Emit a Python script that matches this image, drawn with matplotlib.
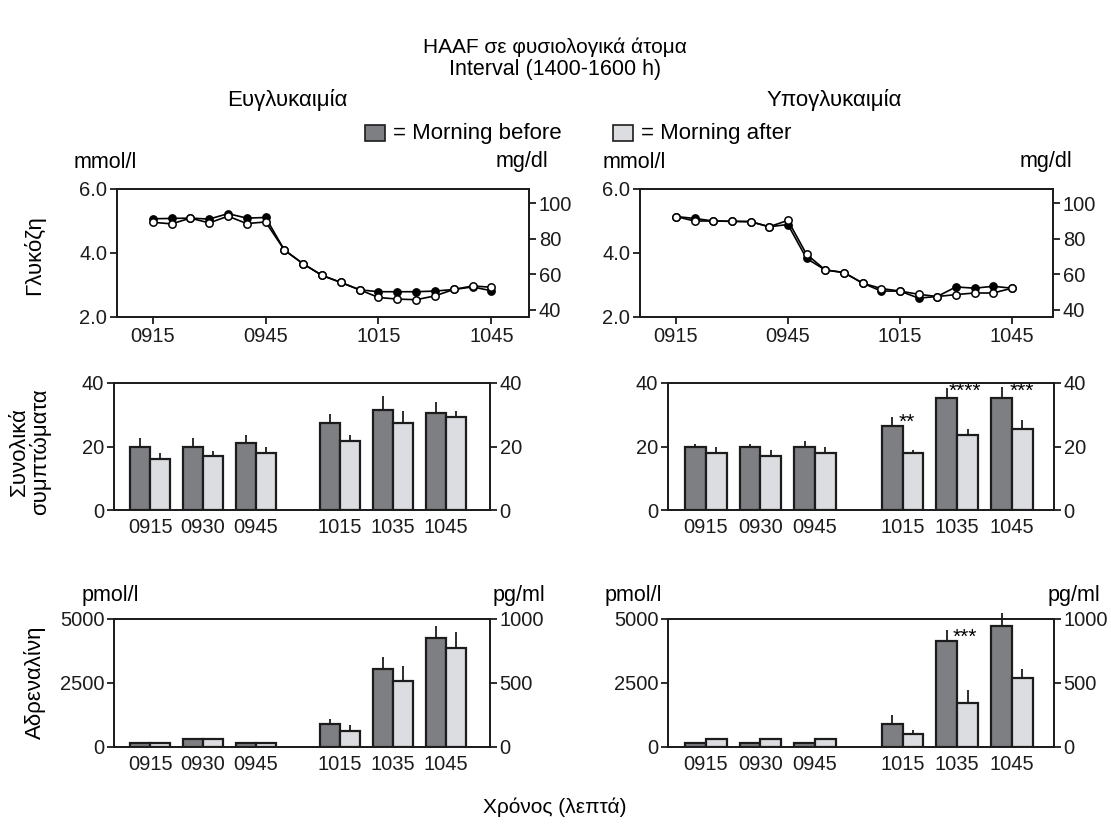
import numpy as np
import matplotlib
matplotlib.use('Agg')
import matplotlib.pyplot as plt
from matplotlib.patches import Rectangle

plt.rcParams['font.family'] = ['Liberation Sans', 'DejaVu Sans']
plt.rcParams['font.size'] = 14

# glucose curves, minutes after 0915
glu_min = [0, 5, 10, 15, 20, 25, 30, 35, 40, 45, 50, 55, 60, 65, 70, 75, 80, 85, 90]
eu_glu_before = [5.07, 5.08, 5.09, 5.06, 5.23, 5.09, 5.11, 4.09, 3.66, 3.30,
                 3.08, 2.85, 2.79, 2.79, 2.79, 2.81, 2.86, 2.94, 2.82]
eu_glu_after = [4.96, 4.91, 5.09, 4.94, 5.15, 4.92, 4.97, 4.09, 3.66, 3.30,
                3.08, 2.85, 2.61, 2.56, 2.54, 2.66, 2.86, 2.97, 2.93]
hy_glu_before = [5.14, 5.08, 5.00, 4.99, 4.98, 4.82, 4.89, 3.83, 3.47, 3.39,
                 3.06, 2.81, 2.81, 2.59, 2.64, 2.94, 2.90, 2.96, 2.90]
hy_glu_after = [5.14, 5.00, 5.00, 4.99, 4.98, 4.82, 5.02, 3.96, 3.47, 3.39,
                3.06, 2.89, 2.81, 2.71, 2.64, 2.70, 2.75, 2.75, 2.90]
glu_ticks = [0, 30, 60, 90]
glu_ticklabels = ['0915', '0945', '1015', '1045']

# bar charts
bar_labels = ['0915', '0930', '0945', '1015', '1035', '1045']

eu_sym_before = [20, 20, 21, 27.5, 31.4, 30.5]
eu_sym_before_err = [2.8, 2.8, 2.7, 2.8, 4.6, 3.6]
eu_sym_after = [16, 17, 18, 21.8, 27.5, 29.3]
eu_sym_after_err = [1.8, 1.7, 1.8, 1.7, 3.6, 1.9]

hy_sym_before = [20, 20, 20, 26.5, 35.2, 35.2]
hy_sym_before_err = [0.8, 0.8, 1.8, 2.7, 3.3, 3.6]
hy_sym_after = [18, 17, 18, 18, 23.7, 25.5]
hy_sym_after_err = [1.8, 1.8, 1.8, 0.9, 1.7, 2.8]

eu_adr_before = [150, 300, 150, 890, 3055, 4245]
eu_adr_before_err = [0, 0, 0, 220, 455, 480]
eu_adr_after = [150, 300, 150, 640, 2585, 3880]
eu_adr_after_err = [0, 0, 0, 235, 575, 610]

hy_adr_before = [150, 150, 150, 890, 4140, 4740]
hy_adr_before_err = [0, 0, 0, 350, 430, 510]
hy_adr_after = [300, 300, 300, 520, 1725, 2700]
hy_adr_after_err = [0, 0, 0, 130, 495, 340]

dark = '#7e7f83'
light = '#dcdde0'
edge = '#1c1c1c'

pos = np.array([0, 1, 2, 3.6, 4.6, 5.6])
w = 0.38
TICK = 14.5
LAB = 15.5

fig = plt.figure(figsize=(11.11, 8.25), dpi=100)


def style(ax):
    for s in ax.spines.values():
        s.set_linewidth(1.3)
        s.set_color(edge)
    ax.tick_params(direction='out', length=5, width=1.3, colors=edge, labelsize=TICK, pad=2)


def glucose(rect, before, after, xlim):
    ax = fig.add_axes(rect)
    ax.plot(glu_min, before, '-o', color='k', lw=1.2, ms=5.3, mfc='k', mec='k')
    ax.plot(glu_min, after, '-o', color='k', lw=1.2, ms=5.3, mfc='white', mec='k', mew=1.1)
    ax.set_xlim(xlim)
    ax.set_ylim(2, 6)
    ax.set_yticks([2, 4, 6])
    ax.set_yticklabels(['2.0', '4.0', '6.0'])
    ax.set_xticks(glu_ticks)
    ax.set_xticklabels(glu_ticklabels)
    style(ax)
    ax2 = ax.twinx()
    ax2.set_ylim(36, 108)
    ax2.set_yticks([40, 60, 80, 100])
    style(ax2)
    return ax


def bars(rect, before, before_err, after, after_err, ymax, yticks, rticks, rmax, xlim):
    ax = fig.add_axes(rect)
    ax.bar(pos - w / 2, before, w, color=dark, edgecolor=edge, lw=1.6, zorder=2)
    ax.bar(pos + w / 2, after, w, color=light, edgecolor=edge, lw=1.6, zorder=2)
    b = np.array(before)
    a = np.array(after)
    ax.vlines(pos - w / 2, b, b + np.array(before_err), color=edge, lw=1.3, zorder=3, clip_on=False)
    ax.vlines(pos + w / 2, a, a + np.array(after_err), color=edge, lw=1.3, zorder=3, clip_on=False)
    ax.set_xlim(xlim)
    ax.set_ylim(0, ymax)
    ax.set_yticks(yticks)
    ax.set_xticks(pos)
    ax.set_xticklabels(bar_labels)
    style(ax)
    ax.tick_params(axis='x', length=0, pad=6)
    ax2 = ax.twinx()
    ax2.set_ylim(0, rmax)
    ax2.set_yticks(rticks)
    style(ax2)
    return ax


H = 825.0
W = 1111.0


def r(x0, x1, ytop, ybot):
    return [x0 / W, 1 - ybot / H, (x1 - x0) / W, (ybot - ytop) / H]


glucose(r(117, 529, 189, 317), eu_glu_before, eu_glu_after, (-9.5, 100))
glucose(r(640, 1053, 189, 317), hy_glu_before, hy_glu_after, (-9.6, 101))

bars(r(114, 490, 383, 510), eu_sym_before, eu_sym_before_err, eu_sym_after, eu_sym_after_err,
     40, [0, 20, 40], [0, 20, 40], 40, (-0.69, 6.44))
ax_sym = bars(r(668, 1054, 383, 510), hy_sym_before, hy_sym_before_err, hy_sym_after, hy_sym_after_err,
              40, [0, 20, 40], [0, 20, 40], 40, (-0.69, 6.37))

bars(r(114, 490, 619, 747), eu_adr_before, eu_adr_before_err, eu_adr_after, eu_adr_after_err,
     5000, [0, 2500, 5000], [0, 500, 1000], 1000, (-0.69, 6.44))
ax_adr = bars(r(668, 1054, 619, 747), hy_adr_before, hy_adr_before_err, hy_adr_after, hy_adr_after_err,
              5000, [0, 2500, 5000], [0, 500, 1000], 1000, (-0.69, 6.37))

# significance stars
ax_sym.text(pos[3] + w / 2 - 0.12, 27.6, '**', ha='center', va='center', fontsize=15)
ax_sym.text(pos[4] + w / 2 - 0.05, 37.3, '****', ha='center', va='center', fontsize=15)
ax_sym.text(pos[5] + w / 2, 37.3, '***', ha='center', va='center', fontsize=15)
ax_adr.text(pos[4] + w / 2 - 0.05, 4300, '***', ha='center', va='center', fontsize=15)

# titles
fig.text(0.4995, 1 - 47 / H, 'HAAF σε φυσιολογικά άτομα', ha='center', va='center', fontsize=15)
fig.text(0.4995, 1 - 70 / H, 'Interval (1400-1600 h)', ha='center', va='center', fontsize=15.5)
fig.text(287 / W, 1 - 100 / H, 'Ευγλυκαιμία', ha='center', va='center', fontsize=16)
fig.text(834 / W, 1 - 100 / H, 'Υπογλυκαιμία', ha='center', va='center', fontsize=16)

# legend
fig.patches.append(Rectangle((365 / W, 1 - 141 / H), 20 / W, 16 / H, transform=fig.transFigure,
                             facecolor=dark, edgecolor=edge, lw=1.2))
fig.text(393 / W, 1 - 133 / H, '= Morning before', ha='left', va='center', fontsize=16)
fig.patches.append(Rectangle((613 / W, 1 - 141 / H), 20 / W, 16 / H, transform=fig.transFigure,
                             facecolor=light, edgecolor=edge, lw=1.2))
fig.text(641 / W, 1 - 133 / H, '= Morning after', ha='left', va='center', fontsize=16)

# units
fig.text(74 / W, 1 - 162 / H, 'mmol/l', ha='left', va='center', fontsize=LAB)
fig.text(548 / W, 1 - 162 / H, 'mg/dl', ha='right', va='center', fontsize=LAB)
fig.text(603 / W, 1 - 162 / H, 'mmol/l', ha='left', va='center', fontsize=LAB)
fig.text(1072 / W, 1 - 162 / H, 'mg/dl', ha='right', va='center', fontsize=LAB)
fig.text(82 / W, 1 - 596 / H, 'pmol/l', ha='left', va='center', fontsize=LAB)
fig.text(545 / W, 1 - 596 / H, 'pg/ml', ha='right', va='center', fontsize=LAB)
fig.text(605 / W, 1 - 596 / H, 'pmol/l', ha='left', va='center', fontsize=LAB)
fig.text(1100 / W, 1 - 596 / H, 'pg/ml', ha='right', va='center', fontsize=LAB)

# row labels
fig.text(34 / W, 1 - 255 / H, 'Γλυκόζη', rotation=90, ha='center', va='center', fontsize=16)
fig.text(30 / W, 1 - 452 / H, 'Συνολικά\nσυμπτώματα', rotation=90, ha='center', va='center',
         fontsize=16, linespacing=1.0)
fig.text(35 / W, 1 - 682 / H, 'Αδρεναλίνη', rotation=90, ha='center', va='center', fontsize=16)

fig.text(0.4995, 1 - 807 / H, 'Χρόνος (λεπτά)', ha='center', va='center', fontsize=15)

fig.savefig('out.png', dpi=100)
